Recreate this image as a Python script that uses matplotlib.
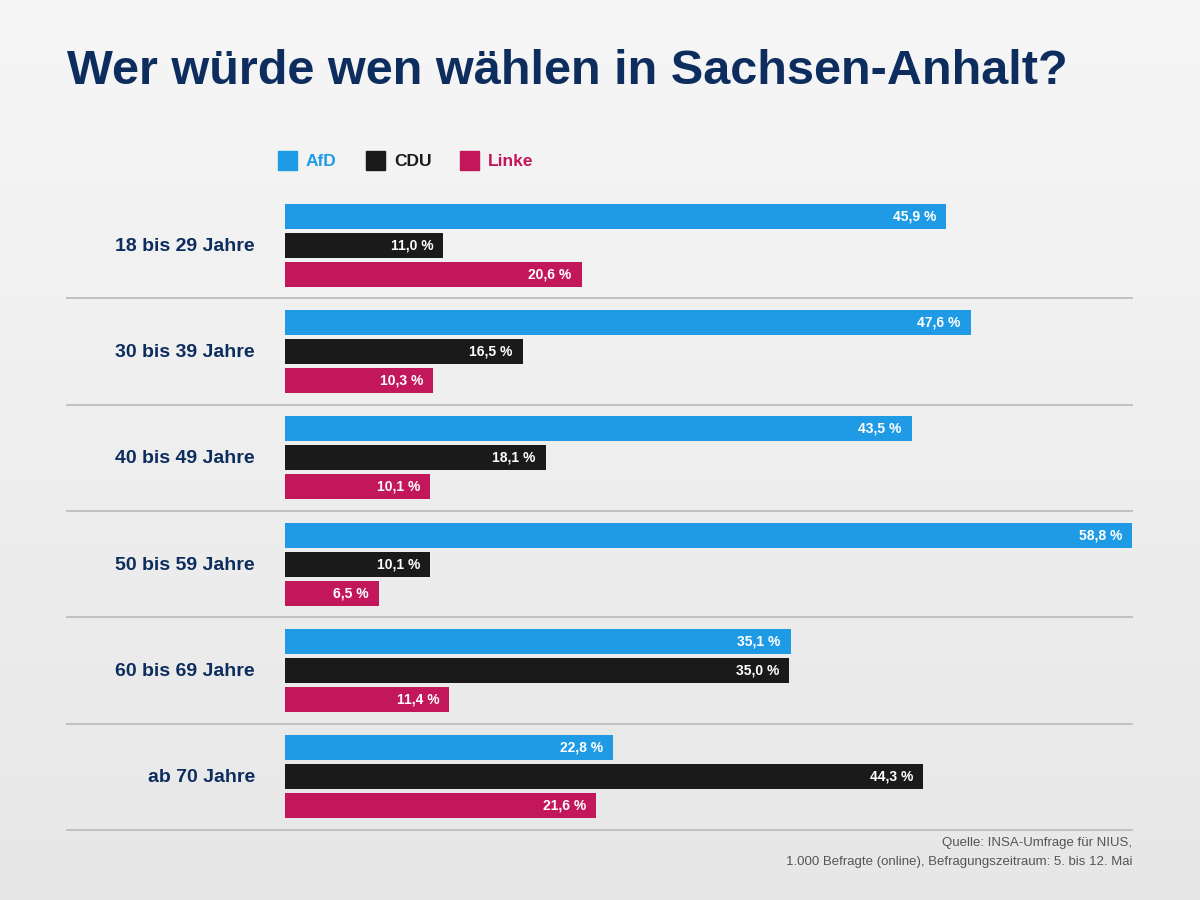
import matplotlib
matplotlib.use("Agg")
import matplotlib.pyplot as plt
import numpy as np
from matplotlib.patches import Rectangle
from matplotlib.lines import Line2D

groups = ["18 bis 29 Jahre", "30 bis 39 Jahre", "40 bis 49 Jahre",
          "50 bis 59 Jahre", "60 bis 69 Jahre", "ab 70 Jahre"]
parties = ["AfD", "CDU", "Linke"]
afd = [45.9, 47.6, 43.5, 58.8, 35.1, 22.8]
cdu = [11.0, 16.5, 18.1, 10.1, 35.0, 44.3]
linke = [20.6, 10.3, 10.1, 6.5, 11.4, 21.6]
colors = ["#1f9be6", "#1a1a1a", "#c2185b"]

plt.rcParams['font.family'] = ['Liberation Sans', 'DejaVu Sans']
W, H = 1200, 900
fig = plt.figure(figsize=(12, 9), dpi=100)

bg = fig.add_axes([0, 0, 1, 1])
grad = np.linspace(0, 1, 256).reshape(-1, 1)
bg.imshow(grad, cmap=matplotlib.colors.LinearSegmentedColormap.from_list("g", ["#f6f6f6", "#e7e7e7"]),
          aspect='auto', extent=[0, 1, 0, 1], origin='upper')
bg.set_axis_off()

def fx(px): return px / W
def fy(py): return 1 - py / H

fig.text(fx(67), fy(72), "Wer würde wen wählen in Sachsen-Anhalt?", fontsize=35,
         fontweight='bold', color="#0d2d5e", va='center', ha='left')

lx = [278, 366, 460]
for x, p, c in zip(lx, parties, colors):
    fig.patches.append(Rectangle((fx(x), fy(170)), fx(19), 19 / H, color=c,
                                 transform=fig.transFigure, figure=fig))
    fig.text(fx(x + 28), fy(161), p, fontsize=12.5, fontweight='bold', color=c,
             va='center', ha='left')

ax = fig.add_axes([fx(285), fy(830), fx(847), 638 / H])
ax.set_xlim(0, 58.8)
ax.set_ylim(5.5, -0.5)
ax.set_axis_off()
ax.patch.set_alpha(0)

off = 29 / 106.3
bh = 25 / 106.3
y = np.arange(len(groups))
for k, (vals, c) in enumerate(zip([afd, cdu, linke], colors)):
    yy = y + (k - 1) * off
    ax.barh(yy, vals, height=bh, color=c)
    for v, yv in zip(vals, yy):
        ax.text(v - 0.7, yv, f"{v:.1f} %".replace(".", ","), color="white",
                fontsize=10, fontweight='bold', ha='right', va='center')

for i, g in enumerate(groups):
    cy = 192 + 106.3 * (i + 0.5)
    fig.text(fx(255), fy(cy + 1), g, fontsize=14, fontweight='bold', color="#0d2d5e",
             ha='right', va='center')
    ly = 192 + 106.3 * (i + 1)
    fig.lines.append(Line2D([fx(67), fx(1132)], [fy(ly), fy(ly)], color="#bdbdbd",
                            lw=1.3, transform=fig.transFigure))

fig.text(fx(1132), fy(843), "Quelle: INSA-Umfrage für NIUS,", fontsize=9.5,
         color="#555555", ha='right', va='center')
fig.text(fx(1132), fy(862), "1.000 Befragte (online), Befragungszeitraum: 5. bis 12. Mai",
         fontsize=9.5, color="#555555", ha='right', va='center')

fig.savefig("out.png", dpi=100)
